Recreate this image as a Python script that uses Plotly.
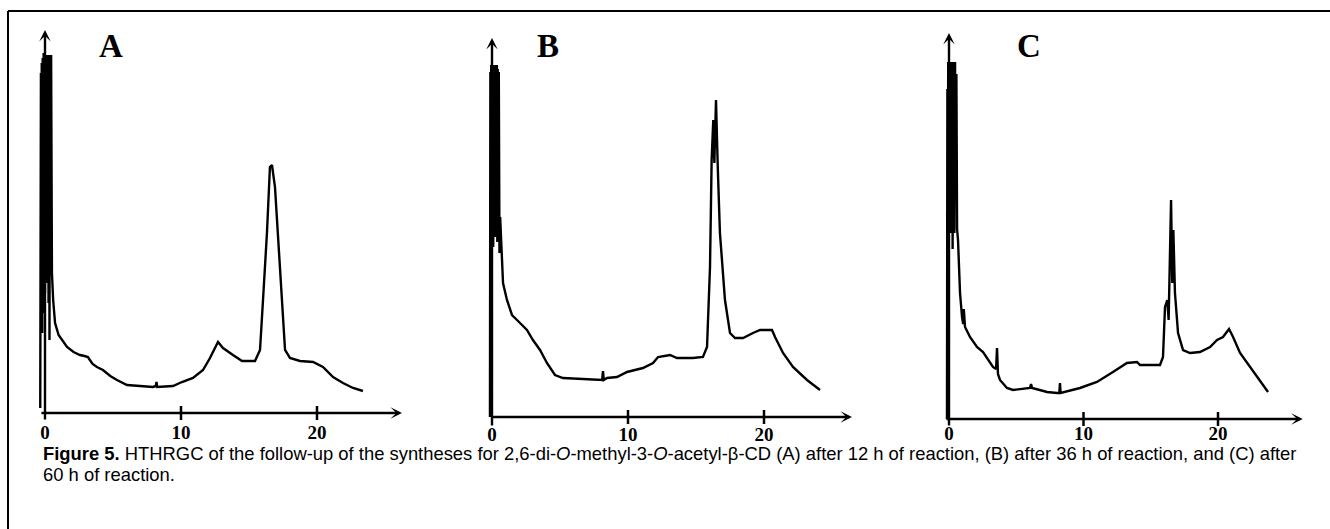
import plotly.graph_objects as go

W, H = 1330, 529

# ---------------- data (retention time in min, detector signal in arbitrary units) -------------
time_A = [-0.35, -0.3, -0.27, -0.24, -0.2, -0.17, -0.14, -0.1, -0.07, -0.04, 0.0, 0.03, 0.06,
          0.1, 0.13, 0.16, 0.2, 0.23, 0.26, 0.3, 0.33, 0.36, 0.4, 0.45, 0.51, 0.6, 0.74, 1.0,
          1.3, 1.62, 2.1, 2.57, 2.9, 3.16, 3.3, 3.5, 3.82, 4.26, 4.8, 5.29, 6.03, 7.0, 7.94,
          8.15, 8.2, 8.25, 9.41, 10.07, 10.88, 11.62, 12.13, 12.72, 13.09, 13.82, 14.49,
          15.44, 15.81, 16.03, 16.32, 16.54, 16.69, 16.91, 17.28, 17.65, 18.01, 18.75, 19.71,
          20.44, 21.18, 21.91, 22.65, 23.38]
signal_A = [5, 340, 120, 350, 80, 355, 150, 360, 100, 358, 120, 358, 200,
            355, 130, 358, 160, 356, 110, 358, 73, 358, 150, 358, 140, 113, 90, 78,
            72, 66, 61, 58, 57, 56, 53, 49, 46, 43, 37, 33, 28, 27, 26,
            27, 31, 26, 27, 31, 35, 43, 55, 71, 65, 58, 52,
            52, 63, 113, 180, 246, 248, 226, 146, 63, 55, 52, 51,
            46, 36, 30, 25, 22]

time_B = [-0.15, -0.12, -0.09, -0.06, -0.03, 0.0, 0.03, 0.06, 0.09, 0.12, 0.15, 0.18, 0.21,
          0.24, 0.27, 0.3, 0.33, 0.36, 0.39, 0.42, 0.45, 0.5, 0.55, 0.6, 0.71, 0.81, 1.1,
          1.47, 1.84, 2.57, 3.01, 3.53, 4.04, 4.63, 5.22, 6.47, 7.94, 8.1, 8.16, 8.22, 8.46,
          9.19, 9.93, 11.1, 11.84, 12.21, 13.09, 13.6, 14.78, 15.51, 15.81, 16.03, 16.15,
          16.27, 16.35, 16.47, 16.6, 16.76, 17.13, 17.5, 17.87, 18.46, 19.19, 19.71, 20.59,
          20.81, 21.4, 22.13, 23.16, 24.12]
signal_B = [0, 345, 150, 352, 120, 350, 200, 352, 170, 348, 230, 350, 190,
            352, 180, 350, 210, 352, 175, 348, 200, 345, 164, 200, 160, 134, 117,
            102, 97, 87, 77, 67, 54, 42, 39, 38, 37, 37, 46, 37, 39,
            40, 45, 49, 54, 60, 62, 59, 59, 60, 70, 150, 257,
            297, 254, 317, 250, 184, 117, 84, 79, 79, 84, 87, 87,
            80, 64, 50, 37, 27]

time_C = [-0.15, -0.12, -0.09, -0.06, -0.03, 0.0, 0.03, 0.06, 0.09, 0.12, 0.15, 0.18, 0.21,
          0.24, 0.27, 0.3, 0.33, 0.36, 0.4, 0.45, 0.5, 0.55, 0.6, 0.67, 0.82, 0.97, 1.05,
          1.1, 1.15, 1.19, 1.56, 2.08, 2.53, 3.05, 3.27, 3.5, 3.57, 3.64, 3.79, 4.31, 4.76,
          6.02, 6.1, 6.18, 7.29, 8.03, 8.2, 8.25, 8.3, 9.74, 11.0, 12.19, 13.23, 13.98,
          14.2, 15.69, 15.91, 16.06, 16.23, 16.33, 16.43, 16.51, 16.6, 16.68, 16.8, 17.03,
          17.4, 17.92, 18.66, 19.41, 19.93, 20.37, 20.82, 21.12, 21.64, 22.38, 23.12, 23.72]
signal_C = [0, 330, 100, 357, 150, 350, 190, 357, 200, 340, 186, 357, 220,
            355, 170, 357, 200, 350, 186, 357, 220, 345, 190, 179, 126, 102, 95,
            110, 93, 92, 82, 72, 67, 57, 52, 50, 71, 45, 39, 31, 29,
            31, 35, 31, 27, 26, 26, 36, 26, 31, 37, 47, 56, 57,
            54, 54, 62, 112, 119, 99, 186, 219, 136, 189, 126, 86,
            69, 66, 67, 72, 79, 82, 90, 82, 66, 52, 39, 27]

panel_letters = ["A", "B", "C"]
tick_values = [0, 10, 20]
tick_labels = ["0", "10", "20"]
series = [(time_A, signal_A), (time_B, signal_B), (time_C, signal_C)]

caption_1 = ("<b>Figure 5.</b> HTHRGC of the follow-up of the syntheses for 2,6-di-<i>O</i>-methyl-3-"
             "<i>O</i>-acetyl-β-CD (A) after 12 h of reaction, (B) after 36 h of reaction, and (C) after")
caption_2 = "60 h of reaction."

# ---------------- layout geometry (pixels) ----------------
# (pixel x of t=0, pixels per minute, pixel y of baseline)
geom = [(45, 13.6, 413), (492, 13.6, 417), (949, 13.45, 419)]
x_rng = (-0.6, 26.8)
y_rng = (-36, 392)
axis_ext = [  # x-axis start, x-axis end, y-axis bottom, y-axis top (data units)
    (-0.37, 26.25, -8, 383),
    (-0.1, 26.47, -10, 379),
    (-0.3, 26.3, -8, 386),
]
label_offset = [-21, -19, -16]   # vertical position of tick labels below baseline
letter_px = [(110.5, 46), (547.5, 46), (1028.5, 46)]

fig = go.Figure()
annotations = []
layout_axes = {}

serif = "Liberation Serif, Times New Roman, serif"

for i, ((tx, sy), (x0, ppu, y0)) in enumerate(zip(series, geom)):
    n = "" if i == 0 else str(i + 1)
    xa, ya = "x" + n, "y" + n
    fig.add_trace(go.Scatter(x=tx, y=sy, mode="lines", xaxis=xa, yaxis=ya,
                             line=dict(color="black", width=2.4), showlegend=False,
                             hoverinfo="skip"))
    # small tick marks crossing the time axis
    fig.add_trace(go.Scatter(x=tick_values[1:], y=[0] * len(tick_values[1:]), mode="markers",
                             xaxis=xa, yaxis=ya, showlegend=False, hoverinfo="skip",
                             marker=dict(symbol="line-ns", size=10,
                                         line=dict(color="black", width=2.5))))
    # tick labels
    fig.add_trace(go.Scatter(x=tick_values, y=[label_offset[i]] * len(tick_values),
                             mode="text", text=tick_labels, textposition="middle center",
                             xaxis=xa, yaxis=ya, showlegend=False, hoverinfo="skip",
                             cliponaxis=False,
                             textfont=dict(family=serif, size=19, color="black",
                                           weight="bold")))
    dx0 = (x0 + x_rng[0] * ppu) / W
    dx1 = (x0 + x_rng[1] * ppu) / W
    dy0 = 1 - (y0 - y_rng[0]) / H
    dy1 = 1 - (y0 - y_rng[1]) / H
    layout_axes["xaxis" + n] = dict(domain=[dx0, dx1], range=list(x_rng), anchor=ya,
                                    showgrid=False, zeroline=False, showline=False,
                                    showticklabels=False, ticks="")
    layout_axes["yaxis" + n] = dict(domain=[dy0, dy1], range=list(y_rng), anchor=xa,
                                    showgrid=False, zeroline=False, showline=False,
                                    showticklabels=False, ticks="")
    xs, xe, yb, yt = axis_ext[i]
    # time axis with arrow
    annotations.append(dict(x=xe, y=0, ax=xs, ay=0, xref=xa, yref=ya, axref=xa, ayref=ya,
                            text="", showarrow=True, arrowhead=3, arrowsize=0.8,
                            arrowwidth=2.4, arrowcolor="black", standoff=0))
    # signal axis with arrow
    annotations.append(dict(x=0, y=yt, ax=0, ay=yb, xref=xa, yref=ya, axref=xa, ayref=ya,
                            text="", showarrow=True, arrowhead=3, arrowsize=0.8,
                            arrowwidth=2.4, arrowcolor="black", standoff=0))
    lx, ly = letter_px[i]
    annotations.append(dict(x=lx / W, y=1 - ly / H, xref="paper", yref="paper",
                            text="<b>%s</b>" % panel_letters[i], showarrow=False,
                            xanchor="center", yanchor="middle",
                            font=dict(family=serif, size=33, color="black")))

cap_font = dict(family="Liberation Sans, Arial, sans-serif", size=18.4, color="black")
annotations.append(dict(x=41 / W, y=1 - 453 / H, xref="paper", yref="paper", text=caption_1,
                        showarrow=False, xanchor="left", yanchor="middle", font=cap_font))
annotations.append(dict(x=41 / W, y=1 - 474 / H, xref="paper", yref="paper", text=caption_2,
                        showarrow=False, xanchor="left", yanchor="middle", font=cap_font))

shapes = [
    dict(type="line", xref="paper", yref="paper", x0=8 / W, x1=8 / W, y0=0, y1=1 - 11 / H,
         line=dict(color="black", width=2)),
    dict(type="line", xref="paper", yref="paper", x0=8 / W, x1=1, y0=1 - 11 / H, y1=1 - 11 / H,
         line=dict(color="black", width=2)),
]

fig.update_layout(width=W, height=H, margin=dict(l=0, r=0, t=0, b=0),
                  paper_bgcolor="white", plot_bgcolor="white",
                  annotations=annotations, shapes=shapes, **layout_axes)

fig.write_html("out.html", config={"displayModeBar": False})
